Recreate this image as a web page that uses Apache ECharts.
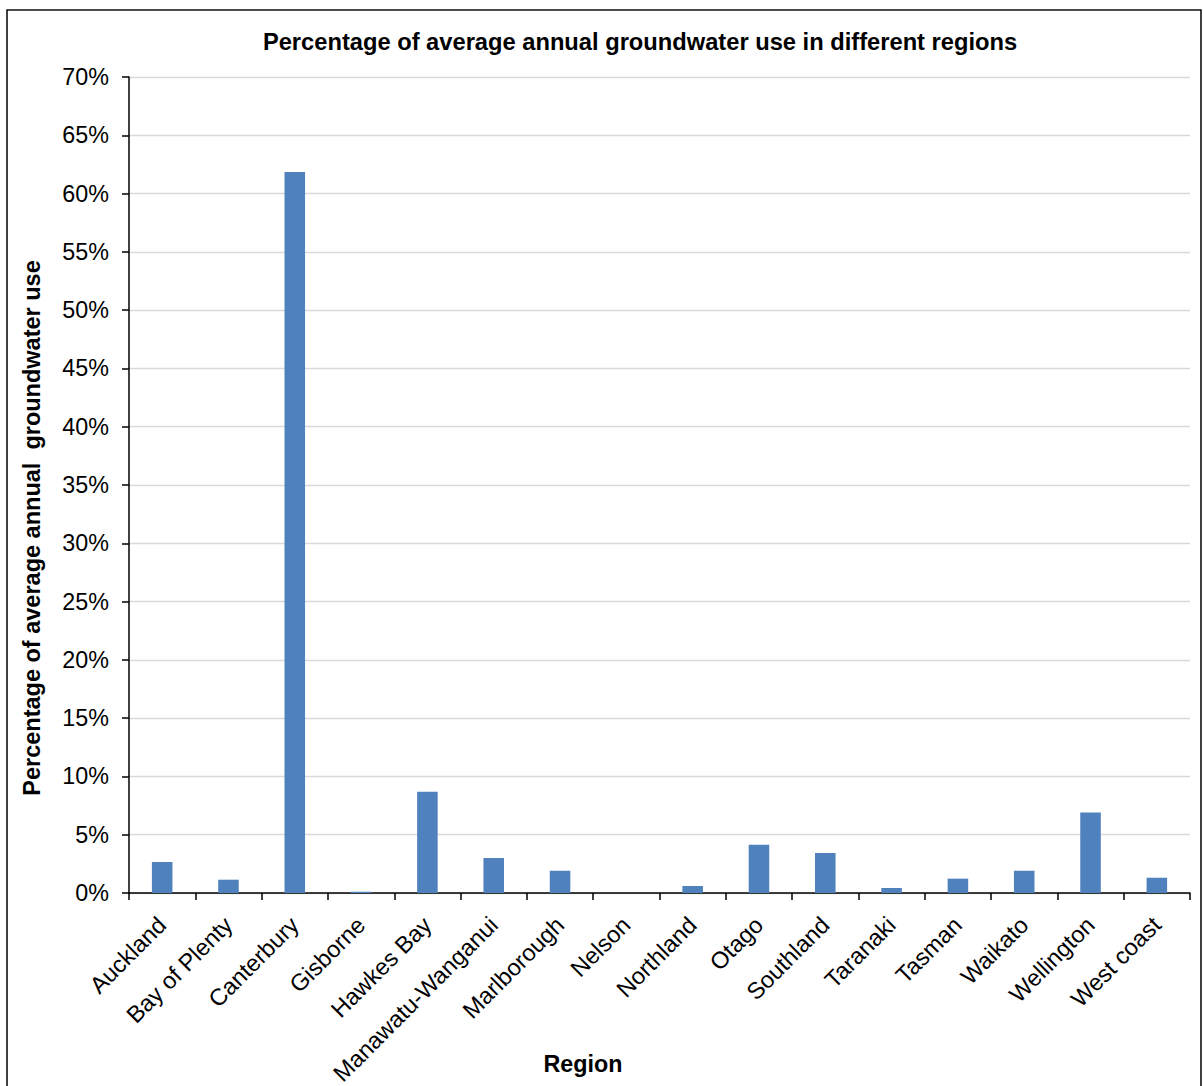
<!DOCTYPE html>
<html>
<head>
<meta charset="utf-8">
<script src="https://cdn.jsdelivr.net/npm/echarts@6/dist/echarts.min.js"></script>
<style>
html,body{margin:0;padding:0;background:#fff;}
#chart{width:1203px;height:1086px;}
</style>
</head>
<body>
<div id="chart"></div>
<script>
const regions = ["Auckland","Bay of Plenty","Canterbury","Gisborne","Hawkes Bay","Manawatu-Wanganui","Marlborough","Nelson","Northland","Otago","Southland","Taranaki","Tasman","Waikato","Wellington","West coast"];
const usePercent = [2.66, 1.14, 61.85, 0.11, 8.68, 3.0, 1.91, 0, 0.6, 4.14, 3.43, 0.43, 1.23, 1.91, 6.9, 1.31];
const chartTitle = "Percentage of average annual groundwater use in different regions";
const xAxisTitle = "Region";
const yAxisTitle = "Percentage of average annual  groundwater use";

const FONT = '"Liberation Sans", Arial, sans-serif';
const chart = echarts.init(document.getElementById('chart'), null, {renderer: 'svg'});
chart.setOption({
  animation: false,
  backgroundColor: '#fff',
  textStyle: {fontFamily: FONT},
  grid: {left: 129, right: 13, top: 77, bottom: 193, containLabel: false, outerBoundsMode: 'none'},
  graphic: [
    {type: 'rect', shape: {x: 7, y: 10, width: 1194, height: 1100}, style: {fill: 'none', stroke: '#111', lineWidth: 1.6}, z: 100},
    {type: 'text', x: 640, y: 42, style: {text: chartTitle, font: 'bold 23.7px ' + FONT, fill: '#000', align: 'center', verticalAlign: 'middle'}},
    {type: 'text', x: 583, y: 1064, style: {text: xAxisTitle, font: 'bold 23.3px ' + FONT, fill: '#000', align: 'center', verticalAlign: 'middle'}},
    {type: 'text', x: 32, y: 528, rotation: Math.PI / 2, style: {text: yAxisTitle, font: 'bold 23.5px ' + FONT, fill: '#000', align: 'center', verticalAlign: 'middle'}}
  ],
  xAxis: {
    type: 'category',
    data: regions,
    boundaryGap: true,
    axisLine: {lineStyle: {color: '#000', width: 1.5}},
    axisTick: {show: true, alignWithLabel: false, length: 7, lineStyle: {color: '#000', width: 1.5}},
    axisLabel: {rotate: 45, interval: 0, margin: 28, fontSize: 23.5, color: '#000', fontFamily: FONT},
    splitLine: {show: false}
  },
  yAxis: {
    type: 'value',
    min: 0, max: 70, interval: 5,
    axisLine: {show: true, lineStyle: {color: '#000', width: 1.5}},
    axisTick: {show: true, length: 7, lineStyle: {color: '#000', width: 1.5}},
    axisLabel: {formatter: '{value}%', fontSize: 23.3, color: '#000', margin: 20, fontFamily: FONT},
    splitLine: {show: true, lineStyle: {color: '#d9d9d9', width: 1.3}}
  },
  series: [{
    type: 'bar',
    data: usePercent,
    barWidth: '31%',
    itemStyle: {color: '#4F81BD'}
  }]
});
</script>
</body>
</html>
